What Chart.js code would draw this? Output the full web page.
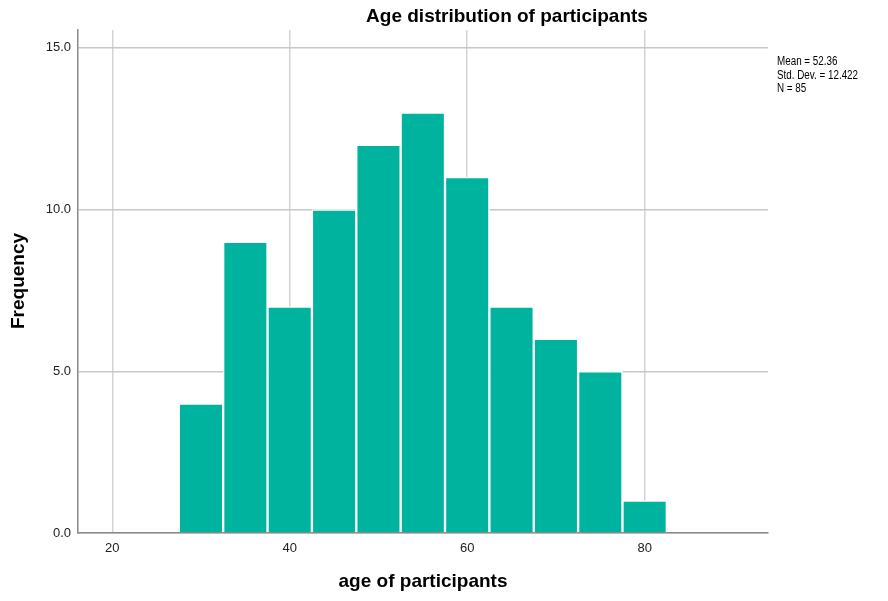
<!DOCTYPE html>
<html>
<head>
<meta charset="utf-8">
<script src="https://cdn.jsdelivr.net/npm/chart.js@4/dist/chart.umd.min.js"></script>
<style>
  html, body { margin: 0; padding: 0; background: #fff; }
  #wrap { width: 888px; height: 601px; position: relative; }
</style>
</head>
<body>
<div id="wrap"><canvas id="grafico"></canvas></div>
<script>
// histogram bins (age, width 5) and their counts
const binCenters = [30, 35, 40, 45, 50, 55, 60, 65, 70, 75, 80];
const frequencias = [4, 9, 7, 10, 12, 13, 11, 7, 6, 5, 1];
const xTicks = [20, 40, 60, 80];
const yTicks = [0, 5, 10, 15];
const estatisticas = ["Mean = 52.36", "Std. Dev. = 12.422", "N = 85"];

const fonte = "'Liberation Sans', Arial, sans-serif";

const textos = {
  id: "textos",
  afterDraw(chart) {
    const ctx = chart.ctx;
    const area = chart.chartArea;
    ctx.save();
    ctx.fillStyle = "#000";
    ctx.textBaseline = "middle";

    ctx.font = "bold 19px " + fonte;
    ctx.textAlign = "center";
    ctx.fillText("Age distribution of participants", 507, 17);

    ctx.fillText("age of participants", 423, 582);

    ctx.save();
    ctx.translate(19, 281);
    ctx.rotate(-Math.PI / 2);
    ctx.fillText("Frequency", 0, 0);
    ctx.restore();

    // caixa de estatisticas (fonte estreita, como no SPSS)
    ctx.font = "12px " + fonte;
    ctx.textAlign = "left";
    estatisticas.forEach((linha, i) => {
      ctx.save();
      ctx.translate(area.right + 9, 62 + i * 13.5);
      ctx.scale(0.82, 1);
      ctx.fillText(linha, 0, 0);
      ctx.restore();
    });
    ctx.restore();
  },
};

const grafico = new Chart(document.getElementById("grafico"), {
  type: "bar",
  data: {
    datasets: [
      {
        label: "Frequency",
        data: binCenters.map((x, i) => ({ x: x, y: frequencias[i] })),
        backgroundColor: "#00b39f",
        borderColor: "#ffffff",
        borderWidth: 1.5,
        barPercentage: 1,
        categoryPercentage: 1,
      },
    ],
  },
  options: {
    responsive: true,
    maintainAspectRatio: false,
    animation: false,
    layout: { padding: { left: 0, right: 120, top: 30, bottom: 0 } },
    plugins: {
      legend: { display: false },
      tooltip: { enabled: false },
    },
    scales: {
      x: {
        type: "linear",
        offset: false,
        min: 16.14,
        max: 93.9,
        afterBuildTicks: (scale) => {
          scale.ticks = xTicks.map((v) => ({ value: v }));
        },
        afterFit: (scale) => {
          scale.height = 68;
        },
        ticks: {
          color: "#222",
          font: { family: fonte, size: 13 },
          padding: 8,
          maxRotation: 0,
          callback: (v) => v,
        },
        grid: { offset: false, color: "#d4d4d4", lineWidth: 1.5, drawTicks: false },
        border: { color: "#8a8a8a", width: 1.5 },
      },
      y: {
        type: "linear",
        min: 0,
        max: 15.55,
        afterBuildTicks: (scale) => {
          scale.ticks = yTicks.map((v) => ({ value: v }));
        },
        afterFit: (scale) => {
          scale.width = 78;
        },
        ticks: {
          color: "#222",
          font: { family: fonte, size: 13 },
          padding: 7,
          callback: (v) => v.toFixed(1),
        },
        grid: { color: "#c8c8c8", lineWidth: 1.5, drawTicks: false },
        border: { color: "#8a8a8a", width: 1.5 },
      },
    },
  },
  plugins: [textos],
});
</script>
</body>
</html>
